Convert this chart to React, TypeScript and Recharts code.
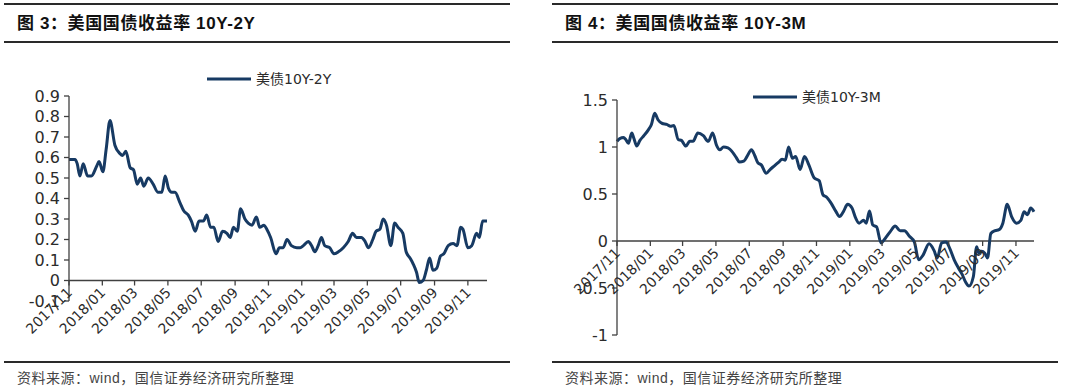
import React from 'react';
import { LineChart, Line, XAxis, YAxis, ReferenceLine } from 'recharts';

// ---------- data ----------
const leftDates = [
  '2017/11/01','2017/11/12','2017/11/16','2017/11/21','2017/11/27','2017/12/05','2017/12/12','2017/12/22','2017/12/26',
  '2018/01/02','2018/01/08','2018/01/15','2018/01/24','2018/02/02','2018/02/07','2018/02/13','2018/02/21','2018/02/27',
  '2018/03/06','2018/03/12','2018/03/18','2018/03/26','2018/04/04','2018/04/13','2018/04/20','2018/04/26','2018/05/02',
  '2018/05/08','2018/05/14','2018/05/23','2018/05/30','2018/06/07','2018/06/13','2018/06/20','2018/06/27','2018/07/05',
  '2018/07/11','2018/07/18','2018/07/24','2018/08/01','2018/08/09','2018/08/17','2018/08/23','2018/08/29','2018/09/05',
  '2018/09/11','2018/09/19','2018/09/25','2018/10/02','2018/10/10','2018/10/16','2018/10/24','2018/10/29','2018/11/05',
  '2018/11/15','2018/11/21','2018/11/28','2018/12/05','2018/12/13','2018/12/23','2018/12/29','2019/01/04','2019/01/13',
  '2019/01/19','2019/01/25','2019/01/31','2019/02/06','2019/02/12','2019/02/21','2019/03/01','2019/03/09','2019/03/18',
  '2019/03/27','2019/04/04','2019/04/11','2019/04/20','2019/04/27','2019/05/03','2019/05/11','2019/05/17','2019/05/24',
  '2019/05/30','2019/06/05','2019/06/13','2019/06/20','2019/06/26','2019/07/05','2019/07/11','2019/07/18','2019/07/24',
  '2019/07/30','2019/08/04','2019/08/11','2019/08/17','2019/08/23','2019/08/29','2019/09/05','2019/09/12','2019/09/18',
  '2019/09/26','2019/10/05','2019/10/12','2019/10/19','2019/10/23','2019/11/01','2019/11/08','2019/11/17','2019/11/22',
  '2019/11/28','2019/12/06',
];
const leftValues = [
  0.59,0.59,0.57,0.51,0.57,0.51,0.51,0.56,0.58,
  0.53,0.64,0.78,0.66,0.62,0.61,0.63,0.55,0.54,
  0.47,0.50,0.46,0.50,0.47,0.43,0.43,0.51,0.45,
  0.43,0.43,0.38,0.34,0.32,0.29,0.24,0.29,0.29,
  0.32,0.26,0.26,0.19,0.24,0.23,0.21,0.26,0.24,
  0.35,0.30,0.28,0.27,0.31,0.26,0.27,0.25,0.21,
  0.13,0.16,0.16,0.20,0.17,0.16,0.16,0.17,0.19,
  0.17,0.14,0.17,0.21,0.17,0.16,0.13,0.14,0.16,
  0.19,0.23,0.21,0.21,0.19,0.16,0.20,0.24,0.25,
  0.30,0.27,0.17,0.28,0.26,0.23,0.14,0.11,0.08,
  0.04,-0.01,0.00,0.05,0.11,0.05,0.06,0.12,0.13,
  0.17,0.18,0.17,0.26,0.25,0.16,0.17,0.23,0.21,
  0.29,0.29,
];

const rightDates = [
  '2017/11/01','2017/11/06','2017/11/13','2017/11/17','2017/11/22','2017/11/28','2017/12/02','2017/12/07','2017/12/13',
  '2017/12/20','2017/12/28','2018/01/03','2018/01/09','2018/01/15','2018/01/23','2018/01/31','2018/02/07','2018/02/13',
  '2018/02/21','2018/02/27','2018/03/07','2018/03/14','2018/03/20','2018/03/29','2018/04/08','2018/04/17','2018/04/25',
  '2018/05/02','2018/05/08','2018/05/15','2018/05/23','2018/06/01','2018/06/07','2018/06/13','2018/06/21','2018/06/27',
  '2018/07/05','2018/07/11','2018/07/17','2018/07/23','2018/08/01','2018/08/08','2018/08/16','2018/08/24','2018/08/30',
  '2018/09/05','2018/09/11','2018/09/18','2018/09/24','2018/10/02','2018/10/10','2018/10/18','2018/10/28','2018/11/06',
  '2018/11/13','2018/11/19','2018/11/28','2018/12/07','2018/12/13','2018/12/20','2018/12/28','2019/01/05','2019/01/12',
  '2019/01/18','2019/01/26','2019/01/31','2019/02/06','2019/02/12','2019/02/19','2019/02/27','2019/03/07','2019/03/16',
  '2019/03/25','2019/04/03','2019/04/11','2019/04/20','2019/04/29','2019/05/07','2019/05/15','2019/05/26','2019/06/04',
  '2019/06/10','2019/06/18','2019/06/26','2019/07/03','2019/07/11','2019/07/19','2019/07/26','2019/08/01','2019/08/07',
  '2019/08/15','2019/08/21','2019/08/25','2019/08/30','2019/09/05','2019/09/10','2019/09/16','2019/09/24','2019/10/01',
  '2019/10/08','2019/10/16','2019/10/24','2019/11/02','2019/11/10','2019/11/16','2019/11/22','2019/11/28','2019/12/04',
];
const rightValues = [
  1.06,1.09,1.10,1.08,1.04,1.15,1.09,1.01,1.07,
  1.12,1.18,1.24,1.36,1.29,1.25,1.24,1.22,1.23,
  1.08,1.07,1.01,1.06,1.06,1.15,1.12,1.06,1.15,
  1.02,0.97,1.00,0.99,0.94,0.89,0.84,0.85,0.90,
  0.97,0.91,0.83,0.81,0.72,0.76,0.80,0.84,0.87,
  0.86,1.00,0.88,0.90,0.76,0.90,0.81,0.67,0.64,
  0.49,0.47,0.40,0.31,0.26,0.31,0.39,0.35,0.24,
  0.19,0.22,0.19,0.32,0.17,0.15,-0.02,0.03,0.10,
  0.16,0.11,0.11,0.05,-0.01,-0.20,-0.15,-0.03,-0.10,
  -0.18,-0.02,-0.01,-0.08,-0.20,-0.29,-0.36,-0.44,-0.48,
  -0.38,-0.06,-0.13,-0.11,-0.13,-0.18,0.08,0.11,0.12,
  0.19,0.39,0.26,0.19,0.22,0.31,0.28,0.35,0.31,
];

const tickLabels = ['2017/11','2018/01','2018/03','2018/05','2018/07','2018/09','2018/11','2019/01','2019/03','2019/05','2019/07','2019/09','2019/11'];
const leftYTicks = [-0.1, 0, 0.1, 0.2, 0.3, 0.4, 0.5, 0.6, 0.7, 0.8, 0.9];
const rightYTicks = [-1, -0.5, 0, 0.5, 1, 1.5];

const leftTitle = '图 3：美国国债收益率 10Y-2Y';
const rightTitle = '图 4：美国国债收益率 10Y-3M';
const leftSeriesName = '美债10Y-2Y';
const rightSeriesName = '美债10Y-3M';
const sourceText = '资料来源：wind，国信证券经济研究所整理';

// ---------- helpers ----------
const START = Date.UTC(2017, 10, 1);
const dayOf = (s: string) => {
  const [y, m, d] = s.split('/').map(Number);
  return Math.round((Date.UTC(y, m - 1, d || 1) - START) / 86400000);
};
const tickDays = tickLabels.map(dayOf);
const labelByDay: Record<number, string> = {};
tickLabels.forEach((l, i) => { labelByDay[tickDays[i]] = l; });

const LINE = '#173a63';
const AXIS = '#404040';
const TEXT = '#2b2b2b';
const FONT = "'DejaVu Sans', 'Noto Sans CJK SC', sans-serif";

type PanelProps = {
  dates: string[];
  values: number[];
  yTicks: number[];
  name: string;
  left: number;
  margin: { top: number; right: number; bottom: number; left: number };
  legendPos: { top: number; left: number };
};

const CHART_W = 540;
const CHART_H = 391;
const X_AXIS_H = 30;
const Y_AXIS_W = 60;

function Panel({ dates, values, yTicks, name, left, margin, legendPos }: PanelProps) {
  const data = dates.map((d, i) => ({ day: dayOf(d), v: values[i] }));
  const yMin = Math.min(...yTicks);
  const yMax = Math.max(...yTicks);
  const plotH = CHART_H - margin.top - margin.bottom - X_AXIS_H;
  const y0 = margin.top + (yMax / (yMax - yMin)) * plotH;

  const renderTick = (props: any) => {
    const { x, payload } = props;
    const label = labelByDay[payload.value] ?? '';
    const tx = x + 4;
    const ty = y0 + 13;
    return (
      <g>
        <line x1={x} x2={x} y1={y0} y2={y0 + 5} stroke={AXIS} strokeWidth={1.3} />
        <text
          x={tx}
          y={ty}
          transform={`rotate(-45 ${tx} ${ty})`}
          textAnchor="end"
          fontSize={14}
          fontFamily={FONT}
          fill={TEXT}
        >
          {label}
        </text>
      </g>
    );
  };

  return (
    <div style={{ position: 'absolute', left, top: 0, width: CHART_W, height: CHART_H }}>
      <LineChart width={CHART_W} height={CHART_H} data={data} margin={margin}>
        <XAxis
          dataKey="day"
          type="number"
          domain={[0, 'dataMax']}
          ticks={tickDays}
          interval={0}
          height={X_AXIS_H}
          axisLine={false}
          tickLine={false}
          tick={renderTick}
        />
        <YAxis
          type="number"
          domain={[yMin, yMax]}
          ticks={yTicks}
          interval={0}
          width={Y_AXIS_W}
          allowDataOverflow
          axisLine={{ stroke: AXIS, strokeWidth: 1.3 }}
          tickLine={{ stroke: AXIS, strokeWidth: 1.3 }}
          tickSize={5}
          tickMargin={4}
          tickFormatter={(v: number) => String(v)}
          tick={{ fontSize: 16, fontFamily: FONT, fill: TEXT }}
        />
        <ReferenceLine y={0} stroke={AXIS} strokeWidth={1.3} />
        <Line
          type="monotone"
          dataKey="v"
          name={name}
          stroke={LINE}
          strokeWidth={3}
          dot={false}
          isAnimationActive={false}
        />
      </LineChart>
      <div
        style={{
          position: 'absolute', top: legendPos.top, left: legendPos.left,
          display: 'flex', alignItems: 'center', whiteSpace: 'nowrap',
        }}
      >
        <svg width={44} height={6} style={{ display: 'block' }}>
          <line x1={0} x2={44} y1={3} y2={3} stroke={LINE} strokeWidth={3} />
        </svg>
        <span style={{ marginLeft: 5, fontSize: 14, fontFamily: FONT, color: TEXT, lineHeight: '18px' }}>{name}</span>
      </div>
    </div>
  );
}

function Header({ left, width, title }: { left: number; width: number; title: string }) {
  return (
    <>
      <div style={{ position: 'absolute', left, top: 3, width, height: 2, background: '#2a2a2a' }} />
      <div
        style={{
          position: 'absolute', left: left + 13, top: 13, fontSize: 17, fontWeight: 'bold',
          fontFamily: "'Liberation Sans', 'Noto Sans CJK SC', sans-serif", color: '#111',
          lineHeight: '22px', whiteSpace: 'pre', letterSpacing: 0.6,
        }}
      >
        {title}
      </div>
      <div style={{ position: 'absolute', left, top: 41, width, height: 2, background: '#2a2a2a' }} />
      <div style={{ position: 'absolute', left, top: 361, width, height: 2, background: '#2a2a2a' }} />
      <div
        style={{
          position: 'absolute', left: left + 13, top: 369, fontSize: 14,
          fontFamily: "'Liberation Sans', 'Noto Sans CJK SC', sans-serif", color: '#444',
          lineHeight: '18px', whiteSpace: 'pre', letterSpacing: 0.5,
        }}
      >
        {sourceText}
      </div>
    </>
  );
}

export default function App() {
  return (
    <div style={{ position: 'fixed', left: 0, top: 0, width: 1080, height: 391, background: '#fff', overflow: 'hidden' }}>
      <Header left={4} width={506} title={leftTitle} />
      <Header left={552} width={506} title={rightTitle} />
      <Panel
        dates={leftDates}
        values={leftValues}
        yTicks={leftYTicks}
        name={leftSeriesName}
        left={0}
        margin={{ top: 96, right: 53, bottom: 60, left: 9 }}
        legendPos={{ top: 70, left: 207 }}
      />
      <Panel
        dates={rightDates}
        values={rightValues}
        yTicks={rightYTicks}
        name={rightSeriesName}
        left={540}
        margin={{ top: 100, right: 46, bottom: 26, left: 17 }}
        legendPos={{ top: 88, left: 213 }}
      />
    </div>
  );
}
